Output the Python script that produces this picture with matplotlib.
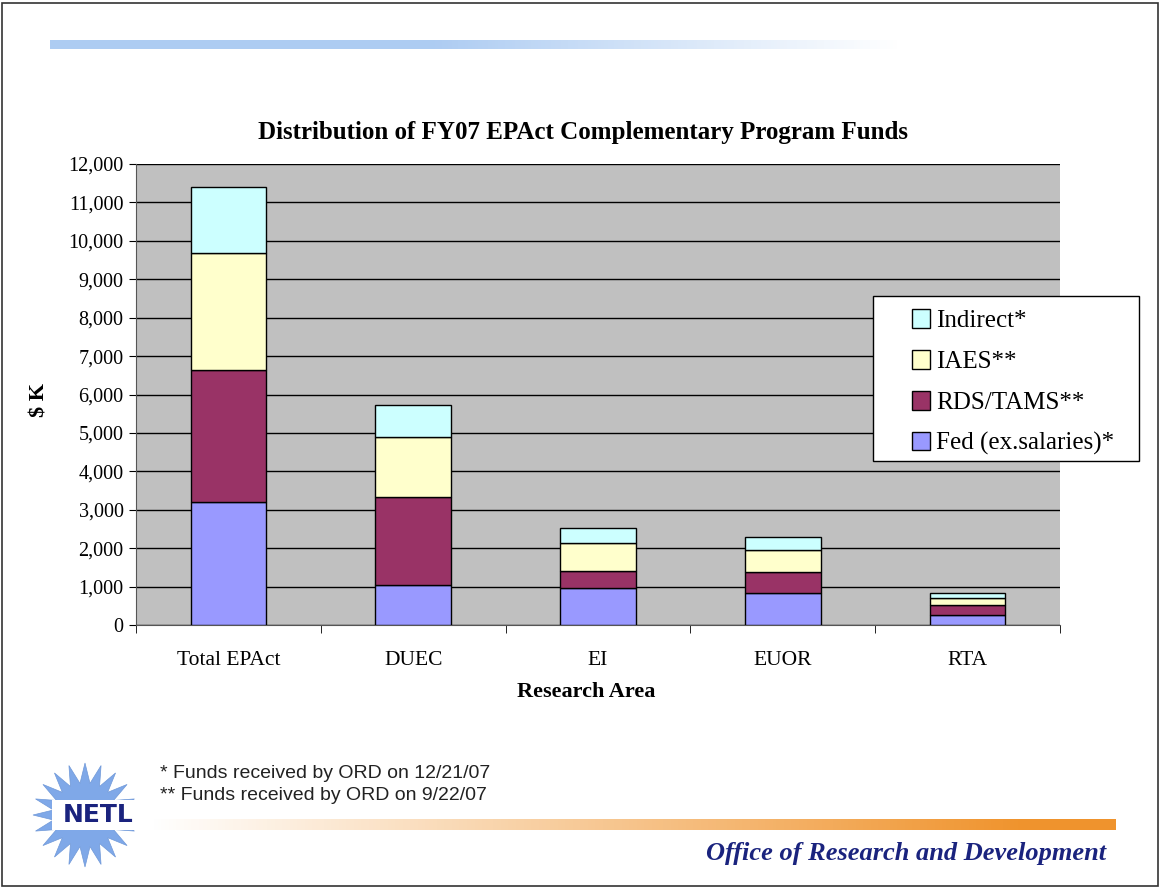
import numpy as np
import matplotlib
matplotlib.use("Agg")
import matplotlib.pyplot as plt
from matplotlib.patches import Rectangle, Polygon

# stacked series, $K
categories = ["Total EPAct", "DUEC", "EI", "EUOR", "RTA"]
fed = [3190, 1045, 970, 820, 260]
rds = [3460, 2280, 430, 550, 270]
iaes = [3030, 1560, 730, 580, 170]
indirect = [1710, 840, 390, 330, 130]

series = [
    ("Fed (ex.salaries)*", fed, "#9999FF"),
    ("RDS/TAMS**", rds, "#993366"),
    ("IAES**", iaes, "#FFFFCC"),
    ("Indirect*", indirect, "#CCFFFF"),
]

W, H = 1161, 888
fig = plt.figure(figsize=(W / 100, H / 100), dpi=100)
fig.patch.set_facecolor("white")

serif = "Liberation Serif"

# slide border
fig.add_artist(Rectangle((0.002, 0.002), 0.995, 0.995, transform=fig.transFigure,
                         fill=False, edgecolor="#333333", lw=1.2))

# top blue gradient bar
gax = fig.add_axes([50 / W, 1 - 49 / H, 850 / W, 9 / H])
grad = np.linspace(0, 1, 256)
top_col = np.array([0.68, 0.80, 0.95])
img = np.ones((1, 256, 3)) * top_col
fade = np.clip((grad - 0.45) / 0.55, 0, 1)[None, :, None]
img = img * (1 - fade) + fade * 1.0
gax.imshow(img, aspect="auto", extent=[0, 1, 0, 1])
gax.axis("off")

# bottom orange gradient bar
oax = fig.add_axes([150 / W, 1 - 830 / H, 966 / W, 11 / H])
ocol = np.array([0.94, 0.58, 0.18])
f2 = np.clip(grad / 0.9, 0, 1)[None, :, None]
oimg = (1 - f2) * 1.0 + f2 * ocol
oax.imshow(oimg, aspect="auto", extent=[0, 1, 0, 1])
oax.axis("off")

# main chart
ax = fig.add_axes([136 / W, 1 - 625 / H, 924 / W, 461 / H])
ax.set_facecolor("#C0C0C0")
x = np.arange(len(categories))
bottom = np.zeros(len(categories))
handles = []
for name, vals, col in series:
    b = ax.bar(x, vals, width=0.41, bottom=bottom, color=col,
               edgecolor="black", linewidth=1.0, label=name, zorder=3)
    handles.append(b)
    bottom += np.array(vals)

ax.set_xlim(-0.5, len(categories) - 0.5)
ax.set_ylim(0, 12000)
ax.set_yticks(np.arange(0, 12001, 1000))
ax.set_yticklabels([f"{v:,}" for v in range(0, 12001, 1000)],
                   fontfamily=serif, fontsize=14.5)
ax.yaxis.grid(True, color="black", linewidth=1.0, zorder=1)
ax.set_axisbelow(True)
ax.set_xticks(x)
ax.set_xticklabels(categories, fontfamily=serif, fontsize=15.5)
ax.tick_params(axis="x", length=0, pad=19)
ax.set_xticks(np.arange(-0.5, len(categories)), minor=True)
ax.tick_params(axis="x", which="minor", length=6, color="black")
ax.tick_params(axis="y", length=5, color="black", pad=4)
for s in ["top", "right"]:
    ax.spines[s].set_visible(False)
ax.spines["left"].set_color("#555555")
ax.spines["bottom"].set_color("#555555")

fig.text(583 / W, 1 - 132 / H,
         "Distribution of FY07 EPAct Complementary Program Funds",
         fontfamily=serif, fontsize=18, fontweight="bold",
         ha="center", va="center")
fig.text(586 / W, 1 - 692 / H, "Research Area", fontfamily=serif,
         fontsize=16, fontweight="bold", ha="center", va="center")
fig.text(40 / W, 1 - 400 / H, "$ K", fontfamily=serif, fontsize=16,
         fontweight="bold", rotation=90, ha="center", va="center")

# legend: frame drawn separately so the box matches the slide
fig.add_artist(Rectangle((873 / W, 1 - 461 / H), 266 / W, 165 / H,
                         transform=fig.transFigure, facecolor="white",
                         edgecolor="black", lw=1.0, zorder=4))
leg = fig.legend(handles[::-1], [s[0] for s in series][::-1],
                 loc="upper left", bbox_to_anchor=(904 / W, 1 - 302 / H),
                 prop={"family": serif, "size": 18}, frameon=False,
                 handlelength=0.75, handleheight=0.75, handletextpad=0.25,
                 labelspacing=0.72, borderpad=0.3, borderaxespad=0)
leg.set_zorder(5)
for h in leg.legend_handles:
    h.set_edgecolor("black")

# footnotes
fig.text(160 / W, 1 - 773 / H, "* Funds received by ORD on 12/21/07",
         fontfamily="Liberation Sans", fontsize=14, va="center",
         color="#222222")
fig.text(160 / W, 1 - 795 / H, "** Funds received by ORD on 9/22/07",
         fontfamily="Liberation Sans", fontsize=14, va="center",
         color="#222222")

fig.text(1106 / W, 1 - 853 / H, "Office of Research and Development",
         fontfamily=serif, fontsize=19, fontweight="bold", fontstyle="italic",
         color="#1A237E", ha="right", va="center")

# NETL logo: star burst with text
cx, cy = 85 / W, 1 - 815 / H
n = 20
ang = np.linspace(0, 2 * np.pi, 2 * n, endpoint=False)
rad = np.where(np.arange(2 * n) % 2 == 0, 52, 32)
pts = np.c_[cx + rad * np.cos(ang) / W, cy + rad * np.sin(ang) / H]
fig.add_artist(Polygon(pts, closed=True, transform=fig.transFigure,
                       facecolor="#7FA8E8", edgecolor="#6F98D8", lw=0.5))
fig.add_artist(Rectangle((52 / W, 1 - 830 / H), 92 / W, 30 / H,
                         transform=fig.transFigure, facecolor="white",
                         edgecolor="none"))
fig.text(98 / W, 1 - 815 / H, "NETL", fontfamily="DejaVu Sans",
         fontsize=18, fontweight="bold", color="#1A237E",
         ha="center", va="center")

fig.savefig("out.png", dpi=100)
